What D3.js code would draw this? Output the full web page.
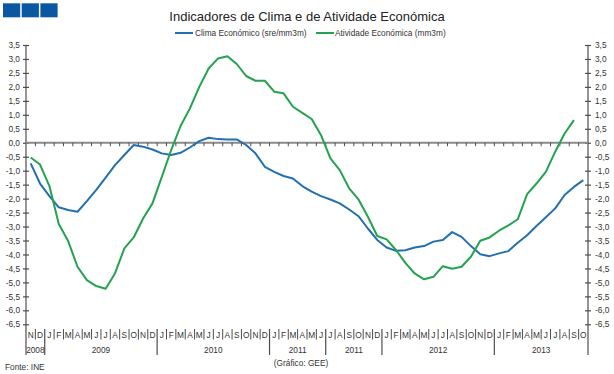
<!DOCTYPE html>
<html><head><meta charset="utf-8">
<script src="https://cdn.jsdelivr.net/npm/d3@7"></script>
<style>body{margin:0;background:#fff}svg{display:block;font-family:"Liberation Sans",Arial,sans-serif}</style>
</head><body><svg id="c" width="614" height="374"></svg>
<script>
const titleText = "Indicadores de Clima e de Atividade Económica";
const seriesNames = ["Clima Económico (sre/mm3m)", "Atividade Económica (mm3m)"];
const monthLabels = ["N","D",
  "J","F","M","A","M","J","J","A","S","O","N","D",
  "J","F","M","A","M","J","J","A","S","O","N","D",
  "J","F","M","A","M","J","J","A","S","O","N","D",
  "J","F","M","A","M","J","J","A","S","O","N","D",
  "J","F","M","A","M","J","J","A","S","O"];
const yearLabels = ["2008","2009","2010","2011","2011","2012","2013"];
const yearStarts = [0, 2, 14, 26, 32, 38, 50];
const yTickValues = [-6.5,-6,-5.5,-5,-4.5,-4,-3.5,-3,-2.5,-2,-1.5,-1,-0.5,0,0.5,1,1.5,2,2.5,3,3.5];
const clima = [-0.74,-1.46,-1.91,-2.31,-2.41,-2.47,-2.09,-1.69,-1.25,-0.80,
  -0.44,-0.08,-0.14,-0.24,-0.38,-0.44,-0.36,-0.17,0.06,0.18,
  0.13,0.12,0.12,-0.08,-0.38,-0.86,-1.04,-1.19,-1.28,-1.55,
  -1.75,-1.91,-2.03,-2.17,-2.39,-2.63,-3.07,-3.48,-3.75,-3.87,
  -3.85,-3.75,-3.70,-3.54,-3.48,-3.20,-3.37,-3.70,-3.99,-4.06,
  -3.96,-3.88,-3.58,-3.31,-2.98,-2.67,-2.35,-1.87,-1.58,-1.34];
const atividade = [-0.53,-0.78,-1.55,-2.91,-3.52,-4.44,-4.92,-5.13,-5.23,-4.68,
  -3.78,-3.39,-2.71,-2.17,-1.22,-0.26,0.60,1.23,2.00,2.66,
  3.02,3.10,2.82,2.39,2.22,2.22,1.83,1.77,1.29,1.07,
  0.85,0.27,-0.56,-0.98,-1.63,-2.03,-2.65,-3.34,-3.46,-3.84,
  -4.30,-4.68,-4.89,-4.80,-4.42,-4.51,-4.44,-4.08,-3.51,-3.39,
  -3.15,-2.96,-2.74,-1.84,-1.46,-1.04,-0.32,0.33,0.81];
const colors = ["#2270b0", "#23a24f"];

const svg = d3.select("#c");
const L = 26, R = 588, T = 45, B = 324.3;
const x = d3.scaleBand().domain(d3.range(monthLabels.length)).range([L, R]).paddingInner(0).paddingOuter(0);
const bw = x.bandwidth();
const y = d3.scaleLinear().domain([-6.5, 3.5]).range([B, T]);
const fmt = v => d3.format(".1f")(v).replace(".", ",").replace("−", "-");
const axisCol = "#4d4d4d";

// logo
[0,1,2].forEach(i => svg.append("rect").attr("x", 3 + i*18.7).attr("y", 3.3).attr("width", 17.2).attr("height", 14).attr("fill", "#0b57a2"));

// title
svg.append("text").attr("x", 307).attr("y", 20.5).attr("text-anchor", "middle")
  .attr("font-size", 13).attr("fill", "#222").text(titleText);

// legend
const lg = [{x: 175, tx: 195}, {x: 316, tx: 335}];
seriesNames.forEach((n, i) => {
  svg.append("line").attr("x1", lg[i].x).attr("x2", lg[i].x + 18).attr("y1", 33).attr("y2", 33)
    .attr("stroke", colors[i]).attr("stroke-width", 2);
  svg.append("text").attr("x", lg[i].tx).attr("y", 36).attr("font-size", 8.3).attr("fill", "#333").text(n);
});

// y axes
const yAxisL = d3.axisLeft(y).tickValues(yTickValues).tickSize(3).tickFormat(fmt);
const gL = svg.append("g").attr("transform", `translate(${L},0)`).call(yAxisL);
const yAxisR = d3.axisRight(y).tickValues(yTickValues).tickSize(3).tickFormat(fmt);
const gR = svg.append("g").attr("transform", `translate(${R},0)`).call(yAxisR);
[gL, gR].forEach((g, j) => {
  g.select(".domain").remove();
  g.selectAll(".tick line").attr("x1", -3).attr("x2", 3).attr("stroke", axisCol).attr("stroke-width", 1.2);
  g.selectAll(".tick text").attr("font-size", 8.3).attr("fill", "#333").attr("font-family", "Liberation Sans, Arial, sans-serif")
    .attr("x", j === 0 ? -6 : 7);
});
[L, R].forEach(xx => svg.append("line").attr("x1", xx).attr("x2", xx).attr("y1", T).attr("y2", 355)
  .attr("stroke", axisCol).attr("stroke-width", 1.2));

// zero line with month ticks
svg.append("line").attr("x1", L).attr("x2", R).attr("y1", y(0)).attr("y2", y(0))
  .attr("stroke", "#8a8a8a").attr("stroke-width", 2);
d3.range(1, monthLabels.length).forEach(k => {
  svg.append("line").attr("x1", x(k)).attr("x2", x(k)).attr("y1", y(0)).attr("y2", y(0) + 3.5)
    .attr("stroke", axisCol).attr("stroke-width", 1);
});

// month labels and separators
monthLabels.forEach((m, k) => {
  svg.append("text").attr("x", x(k) + bw/2).attr("y", 338).attr("text-anchor", "middle")
    .attr("font-size", 8.3).attr("fill", "#333").text(m);
  if (k > 0 && !yearStarts.includes(k)) {
    svg.append("line").attr("x1", x(k)).attr("x2", x(k)).attr("y1", 329).attr("y2", 339.5)
      .attr("stroke", axisCol).attr("stroke-width", 1);
  }
});
yearStarts.forEach((s, i) => {
  const e = i < yearStarts.length - 1 ? yearStarts[i+1] : monthLabels.length;
  const x0 = x(s), x1 = e < monthLabels.length ? x(e) : R;
  svg.append("text").attr("x", (x0 + x1)/2).attr("y", 352.5).attr("text-anchor", "middle")
    .attr("font-size", 8.3).attr("fill", "#333").text(yearLabels[i]);
  if (s > 0) svg.append("line").attr("x1", x0).attr("x2", x0).attr("y1", 329).attr("y2", 355)
    .attr("stroke", axisCol).attr("stroke-width", 1.2);
});

// series
const line = d3.line().x((d, i) => x(i) + bw/2).y(d => y(d));
[clima, atividade].forEach((s, i) => {
  svg.append("path").datum(s).attr("d", line).attr("fill", "none")
    .attr("stroke", colors[i]).attr("stroke-width", 2).attr("stroke-linejoin", "round");
});

// footer
svg.append("text").attr("x", 5).attr("y", 369.5).attr("font-size", 8.3).attr("fill", "#333").text("Fonte: INE");
svg.append("text").attr("x", 301).attr("y", 366).attr("text-anchor", "middle").attr("font-size", 8.3).attr("fill", "#333").text("(Gráfico: GEE)");
</script></body></html>
